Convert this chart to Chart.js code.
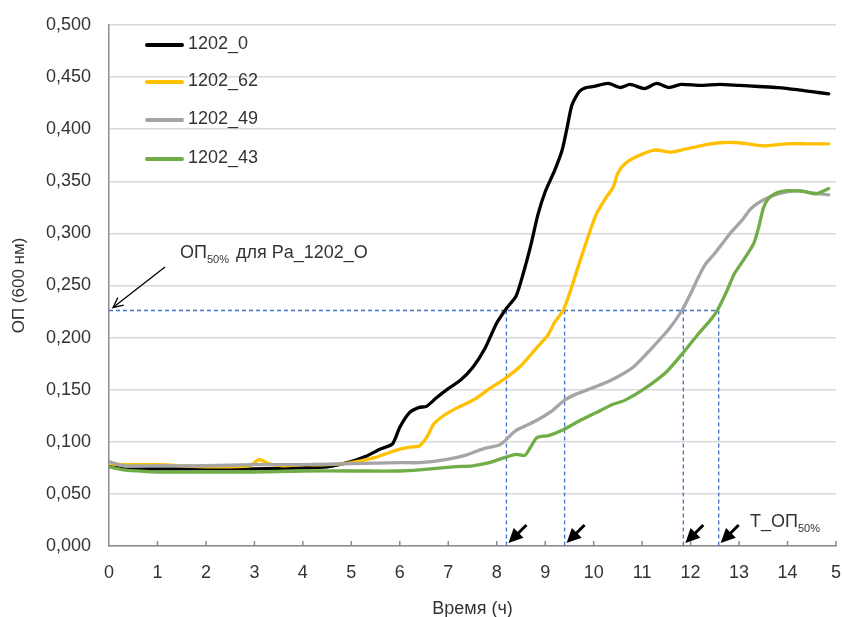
<!DOCTYPE html>
<html>
<head>
<meta charset="utf-8">
<script src="https://cdn.jsdelivr.net/npm/chart.js@4"></script>
<style>
  body { margin: 0; background: #fff; }
  canvas { display: block; }
</style>
</head>
<body>
<canvas id="chart" width="842" height="617"></canvas>
<script>
// Кривые роста, ОП при 600 нм
const seriesNames = ['1202_0', '1202_62', '1202_49', '1202_43'];
const seriesColors = ['#000000', '#FFC000', '#A5A5A5', '#70AD47'];

const t0 = [0, 0.3, 1, 2, 3, 4, 4.5, 5, 5.3, 5.6, 5.85, 6.0, 6.2, 6.4, 6.55, 6.75, 7.0, 7.25, 7.5, 7.75, 8.0, 8.2, 8.4, 8.55, 8.7, 8.85, 9.0, 9.2, 9.35, 9.45, 9.55, 9.7, 9.85, 10.0, 10.3, 10.55, 10.75, 11.05, 11.3, 11.55, 11.8, 12.2, 12.6, 13.0, 13.4, 13.8, 14.2, 14.5, 14.85];
const v0 = [0.077, 0.074, 0.074, 0.074, 0.074, 0.075, 0.076, 0.081, 0.086, 0.093, 0.098, 0.114, 0.128, 0.133, 0.134, 0.142, 0.151, 0.159, 0.171, 0.189, 0.214, 0.228, 0.240, 0.262, 0.288, 0.318, 0.340, 0.361, 0.380, 0.401, 0.423, 0.436, 0.440, 0.441, 0.444, 0.440, 0.443, 0.439, 0.444, 0.440, 0.443, 0.442, 0.443, 0.442, 0.441, 0.440, 0.438, 0.436, 0.434];

const t62 = [0, 0.3, 1, 2, 2.9, 3.1, 3.3, 3.6, 4, 4.5, 5, 5.5, 5.8, 6.0, 6.2, 6.4, 6.55, 6.7, 6.9, 7.2, 7.55, 7.85, 8.15, 8.5, 8.8, 9.05, 9.2, 9.37, 9.5, 9.7, 9.9, 10.05, 10.25, 10.4, 10.5, 10.65, 10.9, 11.25, 11.6, 11.9, 12.3, 12.6, 13.0, 13.5, 14.0, 14.4, 14.85];
const v62 = [0.079, 0.078, 0.078, 0.076, 0.077, 0.083, 0.079, 0.077, 0.078, 0.078, 0.080, 0.085, 0.090, 0.093, 0.095, 0.096, 0.104, 0.117, 0.125, 0.133, 0.141, 0.151, 0.160, 0.173, 0.189, 0.202, 0.215, 0.226, 0.242, 0.271, 0.299, 0.318, 0.334, 0.344, 0.358, 0.367, 0.374, 0.380, 0.378, 0.381, 0.385, 0.387, 0.387, 0.384, 0.386, 0.386, 0.386];

const t49 = [0, 0.3, 1, 2, 3, 4, 5, 6, 6.4, 6.95, 7.35, 7.7, 8.05, 8.17, 8.4, 8.8, 9.15, 9.4, 9.65, 10.05, 10.4, 10.8, 11.2, 11.55, 11.82, 12.0, 12.15, 12.3, 12.5, 12.7, 12.85, 13.05, 13.25, 13.5, 13.8, 14.2, 14.5, 14.85];
const v49 = [0.081, 0.077, 0.077, 0.077, 0.078, 0.078, 0.079, 0.080, 0.080, 0.083, 0.087, 0.093, 0.097, 0.101, 0.111, 0.120, 0.130, 0.140, 0.146, 0.153, 0.160, 0.171, 0.190, 0.208, 0.226, 0.242, 0.257, 0.270, 0.281, 0.293, 0.302, 0.312, 0.324, 0.332, 0.338, 0.341, 0.339, 0.337];

const t43 = [0, 0.3, 0.6, 1, 2, 3, 4, 5, 6, 6.4, 7.1, 7.5, 7.85, 8.17, 8.4, 8.58, 8.7, 8.83, 9.07, 9.35, 9.7, 10.05, 10.4, 10.65, 11.05, 11.5, 11.82, 12.15, 12.43, 12.55, 12.75, 12.9, 13.1, 13.3, 13.4, 13.5, 13.6, 13.78, 14.0, 14.35, 14.6, 14.85];
const v43 = [0.076, 0.073, 0.072, 0.071, 0.071, 0.071, 0.072, 0.072, 0.072, 0.073, 0.076, 0.077, 0.080, 0.085, 0.088, 0.087, 0.095, 0.104, 0.106, 0.111, 0.120, 0.128, 0.136, 0.140, 0.151, 0.167, 0.184, 0.203, 0.218, 0.226, 0.245, 0.261, 0.275, 0.290, 0.305, 0.324, 0.333, 0.339, 0.341, 0.340, 0.338, 0.343];

const xTickLabels = ['0', '1', '2', '3', '4', '5', '6', '7', '8', '9', '10', '11', '12', '13', '14', '5'];

// ОП50% и время его достижения для каждого штамма
const od50 = 0.226;
const tOd50 = [8.2, 9.4, 11.85, 12.58];

const FONT = 'Arial, "Liberation Sans", Helvetica, sans-serif';
const TEXT = '#333333';
const FS = 18;

const toPoints = (ts, vs) => ts.map((t, i) => ({ x: t, y: vs[i] }));

function drawArrowHead(ctx, x1, y1, x2, y2, size, filled) {
    const a = Math.atan2(y2 - y1, x2 - x1);
    ctx.beginPath();
    ctx.moveTo(x2 - size * Math.cos(a - 0.45), y2 - size * Math.sin(a - 0.45));
    ctx.lineTo(x2, y2);
    ctx.lineTo(x2 - size * Math.cos(a + 0.45), y2 - size * Math.sin(a + 0.45));
    if (filled) {
        ctx.closePath();
        ctx.fill();
    } else {
        ctx.stroke();
    }
}

function drawSubText(ctx, x, y, parts) {
    // parts: [text, isSubscript]
    parts.forEach(p => {
        if (p[1]) {
            ctx.font = '11px ' + FONT;
            ctx.fillText(p[0], x, y + 5);
        } else {
            ctx.font = FS + 'px ' + FONT;
            ctx.fillText(p[0], x, y);
        }
        x += ctx.measureText(p[0]).width + (p[1] ? 2 : 0);
    });
}

const annotations = {
    id: 'annotations',
    beforeDatasetsDraw(chart) {
        const ctx = chart.ctx;
        const xs = chart.scales.x, ys = chart.scales.y;
        const yLine = ys.getPixelForValue(od50);
        const y0 = ys.getPixelForValue(0);
        ctx.save();
        // tick marks pointing into the plot
        ctx.strokeStyle = '#8c8c8c';
        ctx.lineWidth = 1.5;
        for (let i = 1; i <= 15; i++) {
            const px = xs.getPixelForValue(i);
            ctx.beginPath();
            ctx.moveTo(px, y0);
            ctx.lineTo(px, y0 - 5);
            ctx.stroke();
        }
        // dashed guide lines
        ctx.strokeStyle = '#4472C4';
        ctx.lineWidth = 1.3;
        ctx.setLineDash([4, 3]);
        ctx.beginPath();
        ctx.moveTo(xs.left, yLine);
        ctx.lineTo(xs.getPixelForValue(Math.max(...tOd50)), yLine);
        ctx.stroke();
        tOd50.forEach(t => {
            const px = xs.getPixelForValue(t);
            ctx.beginPath();
            ctx.moveTo(px, yLine);
            ctx.lineTo(px, y0);
            ctx.stroke();
        });
        ctx.restore();
    },
    afterDatasetsDraw(chart) {
        const ctx = chart.ctx;
        const xs = chart.scales.x, ys = chart.scales.y;
        const yLine = ys.getPixelForValue(od50);
        const y0 = ys.getPixelForValue(0);
        ctx.save();
        ctx.fillStyle = '#000';
        ctx.strokeStyle = '#000';
        // black arrows at the time axis
        tOd50.forEach(t => {
            const tipX = xs.getPixelForValue(t) + 2, tipY = y0 - 3;
            ctx.lineWidth = 3;
            ctx.beginPath();
            ctx.moveTo(tipX + 18, tipY - 18);
            ctx.lineTo(tipX + 6, tipY - 6);
            ctx.stroke();
            drawArrowHead(ctx, tipX + 18, tipY - 18, tipX, tipY, 16, true);
        });
        // arrow to the OD50 line
        ctx.lineWidth = 1.3;
        const ax = xs.left + 4, ay = yLine - 3;
        ctx.beginPath();
        ctx.moveTo(165, 267);
        ctx.lineTo(ax, ay);
        ctx.stroke();
        drawArrowHead(ctx, 165, 267, ax, ay, 11, false);
        // labels
        ctx.fillStyle = TEXT;
        ctx.textAlign = 'left';
        ctx.textBaseline = 'alphabetic';
        drawSubText(ctx, 180, 258, [['ОП', false], ['50%', true], [' для Pa_1202_O', false]]);
        drawSubText(ctx, 750, 527, [['T_ОП', false], ['50%', true]]);
        // legend inside the plot
        const rows = [45, 82, 120, 159];
        chart.data.datasets.forEach((ds, i) => {
            ctx.strokeStyle = ds.borderColor;
            ctx.lineWidth = 4;
            ctx.lineCap = 'round';
            ctx.beginPath();
            ctx.moveTo(147, rows[i]);
            ctx.lineTo(182, rows[i]);
            ctx.stroke();
            ctx.fillStyle = TEXT;
            ctx.font = FS + 'px ' + FONT;
            ctx.textBaseline = 'middle';
            ctx.fillText(ds.label, 188, rows[i] - 1);
        });
        ctx.restore();
    }
};

const ctx = document.getElementById('chart').getContext('2d');
new Chart(ctx, {
    type: 'line',
    data: {
        datasets: [
            { label: seriesNames[0], data: toPoints(t0, v0), borderColor: seriesColors[0], order: 4 },
            { label: seriesNames[1], data: toPoints(t62, v62), borderColor: seriesColors[1], order: 3 },
            { label: seriesNames[2], data: toPoints(t49, v49), borderColor: seriesColors[2], order: 2 },
            { label: seriesNames[3], data: toPoints(t43, v43), borderColor: seriesColors[3], order: 1 }
        ]
    },
    options: {
        responsive: false,
        animation: false,
        datasets: {
            line: { borderWidth: 3.3, pointRadius: 0, tension: 0.22, fill: false, borderCapStyle: 'round', borderJoinStyle: 'round' }
        },
        layout: { padding: { top: 25, right: 6, left: 5, bottom: 0 } },
        plugins: {
            legend: { display: false },
            tooltip: { enabled: false }
        },
        scales: {
            x: {
                type: 'linear',
                min: 0,
                max: 15,
                afterFit: s => { s.height = 71; s.paddingLeft = 0; s.paddingRight = 0; },
                ticks: {
                    stepSize: 1,
                    padding: 16,
                    color: TEXT,
                    font: { family: FONT, size: FS },
                    callback: v => xTickLabels[v]
                },
                grid: { display: true, drawOnChartArea: false, tickLength: 0 },
                border: { color: '#8c8c8c', width: 1.5 },
                title: {
                    display: true,
                    text: 'Время (ч)',
                    color: TEXT,
                    font: { family: FONT, size: FS },
                    padding: { top: 21, bottom: -3 }
                }
            },
            y: {
                min: 0,
                max: 0.5,
                afterFit: s => { s.width = 104; s.paddingTop = 0; s.paddingBottom = 0; },
                ticks: {
                    stepSize: 0.05,
                    padding: 18,
                    color: TEXT,
                    font: { family: FONT, size: FS },
                    callback: v => v.toFixed(3).replace('.', ',')
                },
                grid: { color: '#d9d9d9', lineWidth: 1.5, tickLength: 0 },
                border: { color: '#8c8c8c', width: 1.5 },
                title: {
                    display: true,
                    text: 'ОП (600 нм)',
                    color: TEXT,
                    font: { family: FONT, size: 17 },
                    padding: { bottom: 0 }
                }
            }
        }
    },
    plugins: [annotations]
});
</script>
</body>
</html>
